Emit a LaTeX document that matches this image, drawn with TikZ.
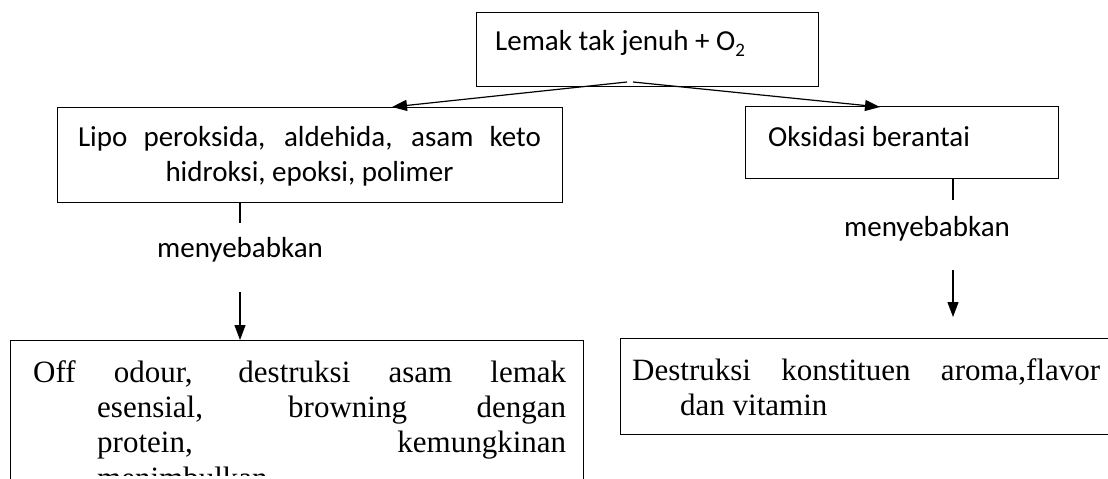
\documentclass[tikz,border=0pt]{standalone}
\usepackage{fontspec}
\setmainfont{Liberation Serif}
\newfontfamily\calfont{Carlito}
\usetikzlibrary{arrows.meta}
\begin{document}
\begin{tikzpicture}[x=1pt,y=-1pt,
  box/.style={draw, line width=1.4pt, inner sep=0pt, anchor=north west},
  lab/.style={inner sep=0pt, anchor=base west},
  clab/.style={inner sep=0pt, anchor=base},
  calf/.style={font=\calfont\fontsize{29}{35}\selectfont},
  timf/.style={font=\fontsize{31}{35}\selectfont},
  conn/.style={line width=1.2pt},
  arr/.style={line width=1.2pt, -{Triangle[length=15pt,width=11pt]}}]
\useasboundingbox (0,0) rectangle (1108,479);
\clip (0,0) rectangle (1108,479);
\fill[white] (0,0) rectangle (1108,479);

% boxes
\node[box, minimum width=342pt, minimum height=74pt] (top) at (476,12) {};
\node[box, minimum width=505pt, minimum height=95pt] (left) at (57,107) {};
\node[box, minimum width=313pt, minimum height=72pt] (right) at (745,106) {};
\node[box, minimum width=573pt, minimum height=200pt] (bl) at (10,340) {};
\node[box, minimum width=600pt, minimum height=96pt] (br) at (620,338) {};

% texts
\node[lab, calf] (ttop) at (495,50) {Lemak tak jenuh + O\raisebox{-0.22em}{\fontsize{19}{19}\selectfont 2}};
\node[clab, calf] (tl1) at (309.5,146) {\makebox[463pt][s]{Lipo peroksida, aldehida, asam keto}};
\node[clab, calf] (tl2) at (309.5,181) {hidroksi, epoksi, polimer};
\node[lab, calf] (tr) at (768,146) {Oksidasi berantai};
\node[clab, calf] (m1) at (240,257) {menyebabkan};
\node[clab, calf] (m2) at (927,236) {menyebabkan};

\node[lab, timf] (b1) at (33,382) {\makebox[533pt][s]{Off odour, destruksi asam lemak}};
\node[lab, timf] (b2) at (97,417) {\makebox[469pt][s]{esensial, browning dengan}};
\node[lab, timf] (b3) at (97,452) {\makebox[469pt][s]{protein, kemungkinan}};
\begin{scope}
\clip (0,0) rectangle (1108,475);
\node[lab, timf] (b4) at (97,488) {menimbulkan};
\end{scope}
\node[lab, timf] (r1) at (632,380) {\makebox[468pt][s]{Destruksi konstituen aroma,flavor}};
\node[lab, timf] (r2) at (680,415) {dan vitamin};

% connector points
\coordinate (sl) at (627,82);
\coordinate (sr) at (633,82);
\coordinate (tipl) at (392,107);
\coordinate (tipr) at (880,107);
\coordinate (stubl) at (240,223);
\coordinate (arrl) at (240,292);
\coordinate (stubr) at (953,200);
\coordinate (arrr) at (953,270);
\coordinate (tipr2) at (953,317);

\draw[arr] (sl) -- (tipl);
\draw[arr] (sr) -- (tipr);
\draw[conn] (left.south -| stubl) -- (stubl);
\draw[arr] (arrl) -- (bl.north -| arrl);
\draw[conn] (right.south -| stubr) -- (stubr);
\draw[arr] (arrr) -- (tipr2);
\end{tikzpicture}
\end{document}
